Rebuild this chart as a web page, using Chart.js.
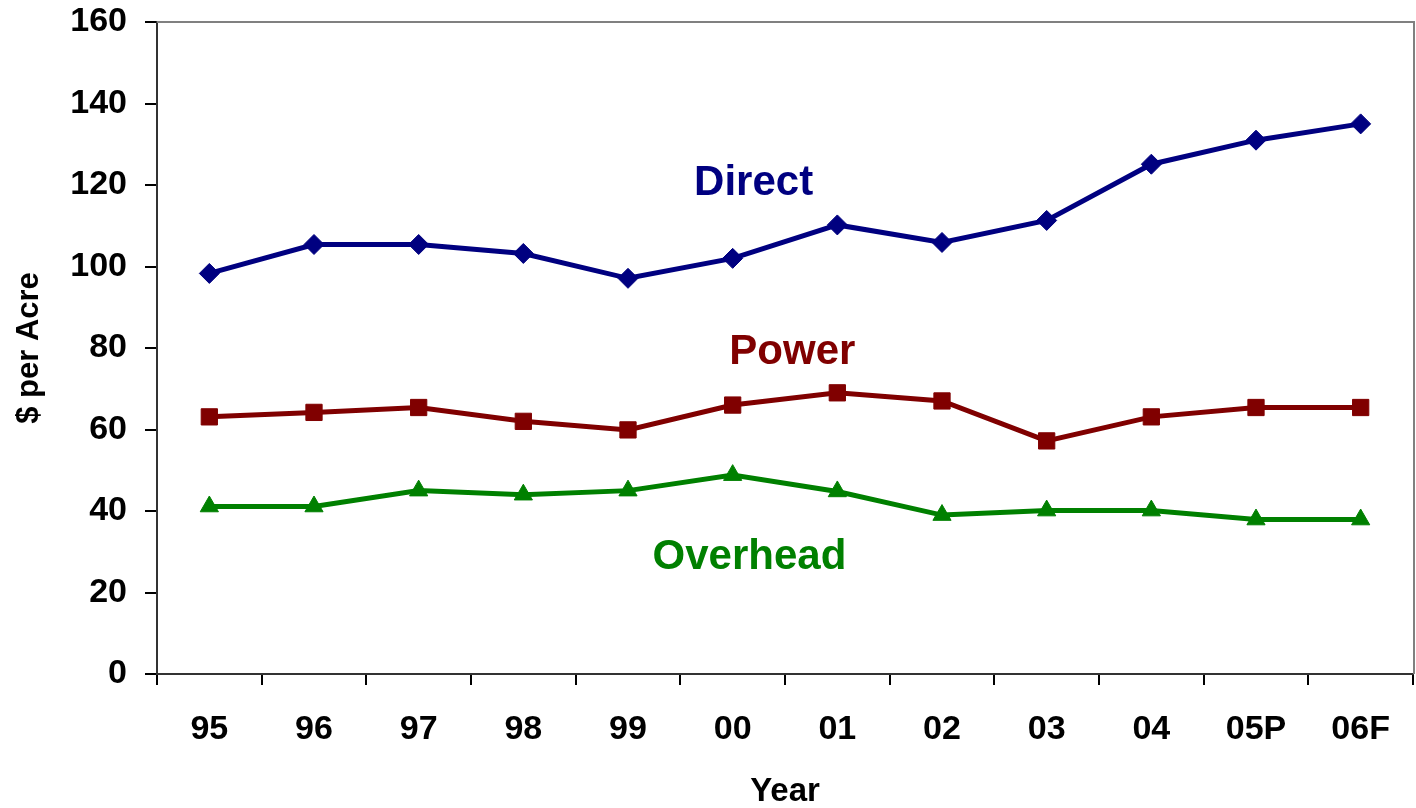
<!DOCTYPE html>
<html>
<head>
<meta charset="utf-8">
<script src="https://cdn.jsdelivr.net/npm/chart.js@4/dist/chart.umd.min.js"></script>
<style>
  html, body { margin: 0; padding: 0; background: #fff; }
  #wrap { width: 1416px; height: 808px; }
</style>
</head>
<body>
<div id="wrap"><canvas id="c" width="1416" height="808"></canvas></div>
<script>
// Cost per acre by year
const years = ['95', '96', '97', '98', '99', '00', '01', '02', '03', '04', '05P', '06F'];
const direct   = [98.3, 105.4, 105.4, 103.2, 97.1, 102.0, 110.2, 105.9, 111.3, 125.1, 131.0, 135.0];
const power    = [63.1, 64.2, 65.4, 62.0, 59.9, 66.0, 69.0, 67.0, 57.2, 63.1, 65.4, 65.4];
const overhead = [41.1, 41.1, 45.0, 44.0, 45.0, 48.8, 44.8, 39.0, 40.1, 40.1, 37.9, 37.9];
const yTicks = [0, 20, 40, 60, 80, 100, 120, 140, 160];

// Series names written inside the plot, anchored at (category index, value)
const seriesLabels = [
  { text: 'Direct',   color: '#000080', at: [5.2, 120.5] },
  { text: 'Power',    color: '#800000', at: [5.57, 78.8] },
  { text: 'Overhead', color: '#008000', at: [5.16, 28.5] }
];

const FONT = '"Liberation Sans", Arial, Helvetica, sans-serif';

const frameAndLabels = {
  id: 'frameAndLabels',
  beforeDatasetsDraw(chart) {
    const { ctx, chartArea: a } = chart;
    ctx.save();
    ctx.strokeStyle = '#808080';
    ctx.lineWidth = 2;
    ctx.beginPath();
    ctx.moveTo(a.left, a.top);
    ctx.lineTo(a.right + 1, a.top);
    ctx.lineTo(a.right + 1, a.bottom);
    ctx.stroke();
    ctx.restore();
  },
  afterDatasetsDraw(chart) {
    const { ctx, scales: { x, y } } = chart;
    ctx.save();
    ctx.font = 'bold 42px ' + FONT;
    ctx.textAlign = 'center';
    ctx.textBaseline = 'middle';
    seriesLabels.forEach(l => {
      ctx.fillStyle = l.color;
      ctx.fillText(l.text, x.getPixelForValue(l.at[0]), y.getPixelForValue(l.at[1]));
    });
    ctx.restore();
  }
};

const line = (label, data, color, style, radius) => ({
  label, data,
  borderColor: color,
  backgroundColor: color,
  borderWidth: 5,
  pointStyle: style,
  pointRadius: radius,
  pointHoverRadius: radius,
  pointBackgroundColor: color,
  pointBorderColor: color,
  pointBorderWidth: 1,
  tension: 0
});

new Chart(document.getElementById('c'), {
  type: 'line',
  data: {
    labels: years,
    datasets: [
      line('Direct', direct, '#000080', 'rectRot', 10),
      line('Power', power, '#800000', 'rect', 11.5),
      line('Overhead', overhead, '#008000', 'triangle', 10.5)
    ]
  },
  options: {
    responsive: false,
    animation: false,
    events: [],
    layout: { autoPadding: false, padding: { top: 22, right: 3, left: 0, bottom: 0 } },
    plugins: { legend: { display: false }, tooltip: { enabled: false } },
    scales: {
      x: {
        type: 'category',
        offset: true,
        grid: { offset: true, drawOnChartArea: false, drawTicks: true, tickLength: 11, color: '#000', lineWidth: 2 },
        border: { color: '#333', width: 2 },
        ticks: { color: '#000', font: { family: FONT, size: 34, weight: 'bold' }, padding: 24, maxRotation: 0, autoSkip: false },
        title: { display: true, text: 'Year', color: '#000', font: { family: FONT, size: 33, weight: 'bold', lineHeight: 1 }, padding: { top: 0, bottom: 0 } },
        afterFit(s) { s.height = 134; s.paddingLeft = 0; s.paddingRight = 0; }
      },
      y: {
        min: 0, max: 160,
        afterBuildTicks(s) { s.ticks = yTicks.map(v => ({ value: v })); },
        grid: { drawOnChartArea: false, drawTicks: true, tickLength: 12, color: '#000', lineWidth: 2 },
        border: { color: '#333', width: 2 },
        ticks: { color: '#000', font: { family: FONT, size: 34, weight: 'bold' }, padding: 18 },
        title: { display: true, text: '$ per Acre', color: '#000', font: { family: FONT, size: 31, weight: 'bold', lineHeight: 1 }, padding: { top: 14, bottom: 0 } },
        afterFit(s) { s.width = 157; s.paddingTop = 0; s.paddingBottom = 0; }
      }
    }
  },
  plugins: [frameAndLabels]
});
</script>
</body>
</html>
